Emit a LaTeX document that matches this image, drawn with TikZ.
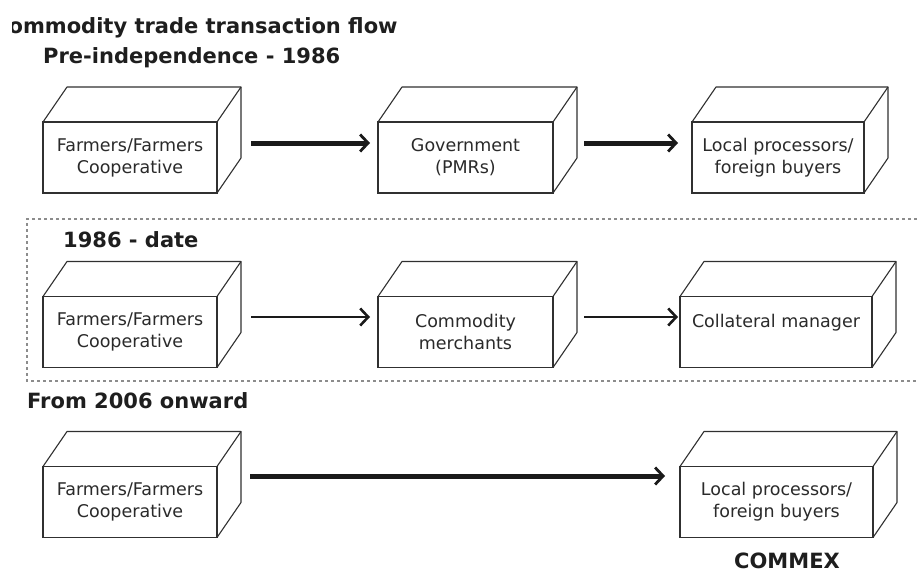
\documentclass[tikz,border=0pt]{standalone}
\usepackage{fontspec}
\setmainfont{DejaVu Sans}
\usetikzlibrary{arrows.meta}
\definecolor{linec}{HTML}{303030}
\definecolor{txtc}{HTML}{2A2A2A}
\definecolor{headc}{HTML}{1E1E1E}
\definecolor{arrc}{HTML}{1A1A1A}
\definecolor{dotc}{HTML}{8C8C8C}
\begin{document}
\begin{tikzpicture}[x=1pt,y=-1pt,
  box3d/.style={draw=linec, line width=1.1pt, minimum height=71pt, inner sep=0pt, outer sep=0pt,
    align=center, font=\fontsize{17.5}{22}\selectfont, text=txtc},
  face/.style={draw=linec, line width=1.1pt, line join=round},
  heading/.style={font=\fontsize{21}{25}\selectfont\bfseries, text=headc, anchor=base west, inner sep=0pt},
  thickarrow/.style={draw=arrc, line width=5pt, -{Straight Barb[length=8pt,width=17pt,line width=2.8pt]}},
  thinarrow/.style={draw=arrc, line width=2.8pt, -{Straight Barb[length=8pt,width=17pt,line width=2.6pt]}},
  sep/.style={draw=dotc, line width=1.2pt, dash pattern=on 3pt off 3pt}]
\useasboundingbox (0,0) rectangle (917,573);
\fill[white] (0,0) rectangle (917,573);

% headings
\begin{scope}
  \clip (12,0) rectangle (917,60);
  \node[heading] (t0) at (-7,33) {Commodity trade transaction flow};
\end{scope}
\node[heading] (t1) at (43,63) {Pre-independence - 1986};
\node[heading] (t2) at (63,247) {1986 - date};
\node[heading] (t3) at (27,408) {From 2006 onward};
\node[heading, anchor=base] (t4) at (787,568) {COMMEX};

% separators
\coordinate (s1) at (27,219);
\coordinate (s2) at (917,219);
\coordinate (s3) at (27,381);
\coordinate (s4) at (917,381);
\draw[sep] (s2) -- (s1) -- (s3) -- (s4);

% boxes row 1
\node[box3d, minimum width=174pt] (f1) at (130,157.5) {Farmers/Farmers\\Cooperative};
\node[box3d, minimum width=175pt] (g1) at (465.5,157.5) {Government\\(PMRs)};
\node[box3d, minimum width=172pt] (l1) at (778,157.5) {Local processors/\\foreign buyers};
% row 2
\node[box3d, minimum width=174pt] (f2) at (130,332) {Farmers/Farmers\\Cooperative};
\node[box3d, minimum width=175pt] (m2) at (465.5,332) {Commodity\\merchants};
\node[box3d, minimum width=192pt] (c2) at (776,332) {Collateral manager\\\mbox{}};
% row 3
\node[box3d, minimum width=174pt] (f3) at (130,502) {Farmers/Farmers\\Cooperative};
\node[box3d, minimum width=193pt] (l3) at (776.5,502) {Local processors/\\foreign buyers};

\foreach \n in {f1,g1,l1,f2,m2,c2,f3,l3} {
  \draw[face] (\n.north west) -- ++(24,-35) -- ([shift={(24,-35)}]\n.north east)
     -- ([shift={(24,-35)}]\n.south east) -- (\n.south east);
  \draw[face] (\n.north east) -- ++(24,-35);
}

% arrows
\draw[thickarrow, shorten <=34pt, shorten >=8pt] ([yshift=14.5pt]f1.east) -- ([yshift=14.5pt]g1.west);
\draw[thickarrow, shorten <=31pt, shorten >=14pt] ([yshift=14.5pt]g1.east) -- ([yshift=14.5pt]l1.west);
\draw[thinarrow, shorten <=34pt, shorten >=8pt] ([yshift=15pt]f2.east) -- ([yshift=15pt]m2.west);
\draw[thinarrow, shorten <=31pt, shorten >=2pt] ([yshift=15pt]m2.east) -- ([yshift=15pt]c2.west);
\draw[thickarrow, shorten <=33pt, shorten >=15pt] ([yshift=26pt]f3.east) -- ([yshift=26pt]l3.west);
\end{tikzpicture}
\end{document}
